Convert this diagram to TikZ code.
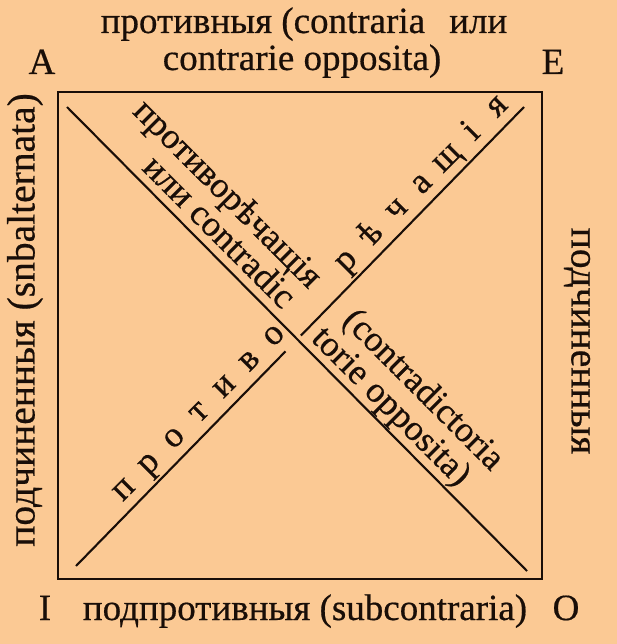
\documentclass[tikz,border=0pt]{standalone}
\usepackage{fontspec}
\setmainfont{Liberation Serif}
\newfontfamily\inkfont[FakeBold=0.5]{Liberation Serif}
\usetikzlibrary{calc}
\definecolor{paper}{RGB}{251,201,148}
\definecolor{ink}{RGB}{25,14,8}
\tikzset{
  lbl/.style={font=\inkfont\fontsize{37}{38}\selectfont, text=ink, inner sep=0pt, anchor=base},
  slbl/.style={font=\inkfont\fontsize{39.5}{40}\selectfont, text=ink, inner sep=0pt, anchor=center},
  dlbl/.style={font=\inkfont\fontsize{36}{36}\selectfont, text=ink, inner sep=0pt, anchor=base},
  frame/.style={draw=ink, line width=2.8pt},
  diag/.style={draw=ink, line width=2.1pt}
}
\begin{document}
\begin{tikzpicture}[x=1pt,y=-1pt]
\fill[paper] (0,0) rectangle (617,644);
\useasboundingbox (0,0) rectangle (617,644);
% square
\coordinate (cA) at (58,92);
\coordinate (cO) at (542,579);
\draw[frame] (cA) rectangle (cO);
% diagonals
\coordinate (mL) at (67,107);
\coordinate (mU) at (527,571);
\coordinate (aL) at (76,566);
\coordinate (aU) at (524,107);
\coordinate (aGap1) at ($(aL)!300pt!(aU)$);
\coordinate (aGap2) at ($(aL)!322pt!(aU)$);
\draw[diag] (mL) -- (mU);
\draw[diag] (aL) -- (aGap1);
\draw[diag] (aGap2) -- (aU);
% corner letters and edge labels
\node[lbl] (A) at (42,74) {A};
\node[lbl] (E) at (553,74) {E};
\node[lbl] (I) at (45,620) {I};
\node[lbl] (O) at (566,620) {O};
\node[lbl] (top1) at (304,33) {противныя (contraria\hspace{0.4em} или};
\node[lbl] (top2) at (302,70) {contrarie opposita)};
\node[lbl] (bot) at (305,620) {подпротивныя (subcontraria)};
\node[slbl, rotate=90] (left) at (25,320) {подчиненныя (snbalternata)};
\node[slbl, rotate=-90] (right) at (577,341) {подчиненныя};
% text along the main diagonal
\node[dlbl, rotate=-45] (d1) at ($(mL)!175pt!(mU)+(30,-30)$) {противорѣчащія};
\node[dlbl, rotate=-45] (d2) at ($(mL)!196pt!(mU)+(6.5,-6.5)$) {или contradic};
\node[dlbl, rotate=-45] (d3) at ($(mL)!452pt!(mU)+(31,-31)$) {(contradictoria};
\node[dlbl, rotate=-45] (d4) at ($(mL)!441pt!(mU)+(6.5,-6.5)$) {torie opposita)};
% spaced letters along the other diagonal
\foreach \w/\ch [count=\i] in {88/п,124/р,160/о,196/т,232/и,268/в,303/о,407/р,443/ѣ,479/ч,515/а,551/щ,587/і,623/я}{
  \node[dlbl, rotate=45] (s\i) at ($(aL)!\w pt!(aU)+(-7.9,-7.7)$) {\ch};
}
\end{tikzpicture}
\end{document}
